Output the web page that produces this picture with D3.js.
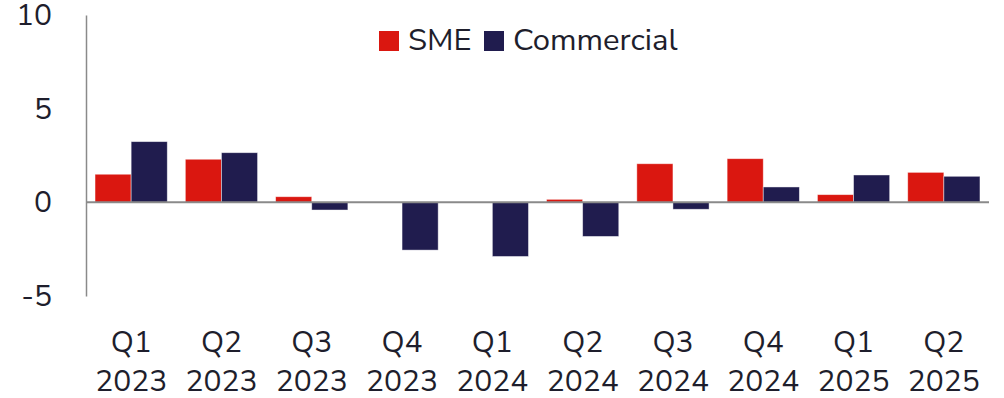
<!DOCTYPE html>
<html>
<head>
<meta charset="utf-8">
<script src="https://cdn.jsdelivr.net/npm/d3@7"></script>
<style>
  html, body { margin: 0; padding: 0; background: #fff; }
  svg { display: block; }
  text { font-family: "Nunito Sans", Lato, "Open Sans", sans-serif; fill: #1e1e2c; }
</style>
</head>
<body>
<svg id="chart" width="1004" height="398"></svg>
<script>
// Quarterly growth, % — SME vs Commercial lending
const quarters = ["Q1 2023", "Q2 2023", "Q3 2023", "Q4 2023", "Q1 2024",
                  "Q2 2024", "Q3 2024", "Q4 2024", "Q1 2025", "Q2 2025"];
const smeValues = [1.5, 2.3, 0.3, 0.0, 0.0, 0.16, 2.06, 2.33, 0.41, 1.6];
const commercialValues = [3.24, 2.65, -0.41, -2.55, -2.89, -1.82, -0.37, 0.82, 1.46, 1.39];
const seriesNames = ["SME", "Commercial"];
const yTicks = [-5, 0, 5, 10];

const colors = { "SME": "#da1710", "Commercial": "#201c4e" };

const svg = d3.select("#chart");
const margin = { left: 86, right: 15, top: 15, bottom: 102 };
const width = 1004, height = 398;

const x = d3.scaleBand()
  .domain(quarters)
  .range([margin.left, width - margin.right])
  .paddingInner(0.2)
  .paddingOuter(0.1);

const xs = d3.scaleBand()
  .domain(seriesNames)
  .range([0, x.bandwidth()]);

const y = d3.scaleLinear()
  .domain([-5, 10])
  .range([height - margin.bottom, margin.top]);

// y axis: labels only (plain hyphen for negatives), plus a vertical rule
const yAxis = svg.append("g")
  .attr("transform", `translate(${margin.left},0)`)
  .call(d3.axisLeft(y).tickValues(yTicks).tickSize(0).tickPadding(34).tickFormat(d => String(d)));
yAxis.select(".domain").attr("stroke", "#8a8a8a").attr("stroke-width", 1.5);
yAxis.selectAll("text")
  .style("font-size", "30px")
  .style("font-family", "\"Nunito Sans\", Lato, sans-serif")
  .attr("fill", "#1e1e2c");

// bars
const rows = quarters.map((q, i) => ({
  q,
  vals: [
    { key: "SME", v: smeValues[i] },
    { key: "Commercial", v: commercialValues[i] }
  ]
}));

const groups = svg.append("g").selectAll("g")
  .data(rows)
  .join("g")
  .attr("transform", d => `translate(${x(d.q)},0)`);

groups.selectAll("rect")
  .data(d => d.vals.filter(e => e.v !== 0))
  .join("rect")
  .attr("x", d => xs(d.key))
  .attr("width", xs.bandwidth())
  .attr("y", d => Math.min(y(d.v), y(0)))
  .attr("height", d => Math.abs(y(d.v) - y(0)))
  .attr("fill", d => colors[d.key])
  .attr("stroke", "#ffffff")
  .attr("stroke-opacity", 0.55)
  .attr("stroke-width", 0.8);

// zero line
svg.append("line")
  .attr("x1", margin.left)
  .attr("x2", width - margin.right)
  .attr("y1", y(0))
  .attr("y2", y(0))
  .attr("stroke", "#8a8a8a")
  .attr("stroke-width", 2);

// x axis: two-line category labels
const xAxis = svg.append("g")
  .attr("transform", `translate(0,${height - margin.bottom})`)
  .call(d3.axisBottom(x).tickSize(0).tickPadding(0));
xAxis.select(".domain").remove();
xAxis.selectAll(".tick text").each(function(d) {
  const parts = d.split(" ");
  const t = d3.select(this).text(null)
    .attr("y", 0)
    .attr("dy", null)
    .style("font-size", "30px")
    .attr("fill", "#1e1e2c");
  t.append("tspan").attr("x", 0).attr("y", 56).text(parts[0]);
  t.append("tspan").attr("x", 0).attr("y", 95).text(parts[1]);
});

// legend
const legend = svg.append("g").attr("transform", "translate(379,31)");
const legendOffsets = [0, 105];
seriesNames.forEach((name, i) => {
  const g = legend.append("g").attr("transform", `translate(${legendOffsets[i]},0)`);
  g.append("rect").attr("width", 20).attr("height", 20).attr("fill", colors[name]);
  g.append("text").attr("x", 29).attr("y", 19).style("font-size", "31px").text(name);
});
</script>
</body>
</html>
